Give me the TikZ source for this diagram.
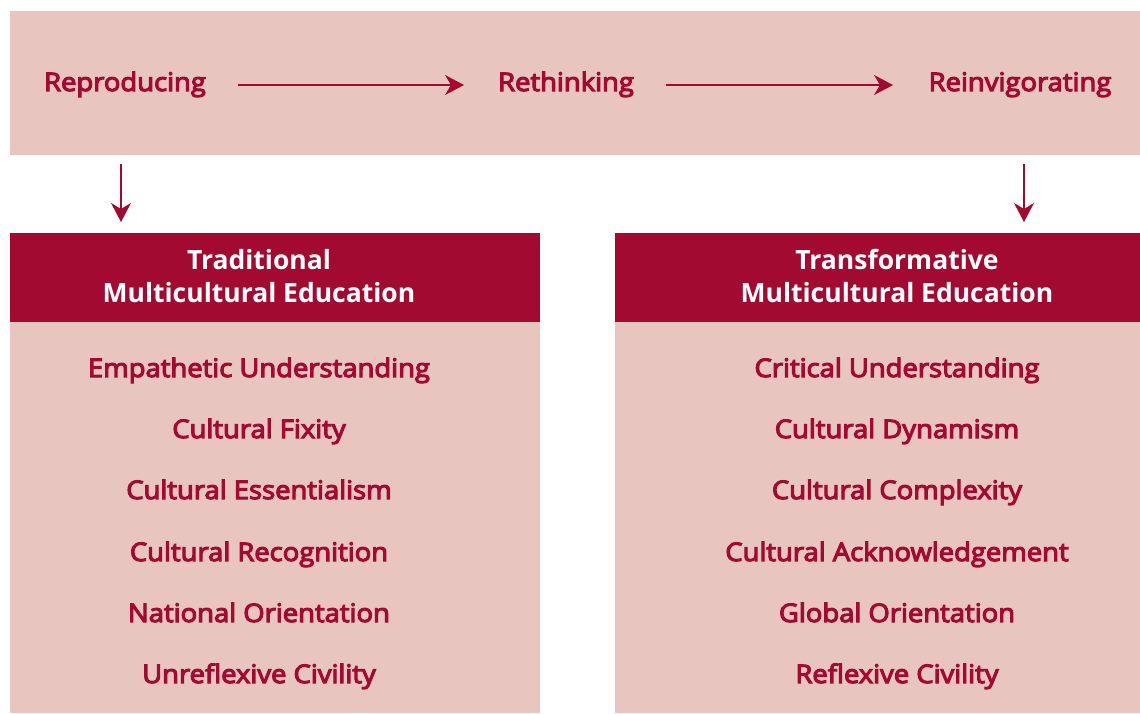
\documentclass[tikz,border=0pt]{standalone}
\usepackage{fontspec}
\setmainfont{Open Sans}
\newfontfamily\semib{Open Sans}[FakeBold=4.5,FakeStretch=1.075]
\usetikzlibrary{arrows.meta}
\definecolor{crimson}{HTML}{A20A32}
\definecolor{blush}{HTML}{E8C5BF}
\tikzset{
  panel/.style={fill=blush, draw=none},
  headbar/.style={fill=crimson, draw=none},
  stage/.style={anchor=base, text=crimson, font=\semib\fontsize{25.5}{30}\selectfont, inner sep=0pt},
  item/.style={anchor=base, text=crimson, font=\semib\fontsize{25.5}{30}\selectfont, inner sep=0pt},
  headtext/.style={anchor=base, text=white, font=\bfseries\fontsize{26.5}{30}\selectfont, inner sep=0pt},
  flow/.style={draw=crimson, line width=1.3pt, -{Stealth[length=19pt,width=20pt,inset=6pt]}}
}
\begin{document}
\begin{tikzpicture}[x=1pt,y=-1pt]
\useasboundingbox (0,0) rectangle (1140,713);
% top band with the three stages
\fill[panel] (10,11) rectangle (1140,155);
\node[stage] (repro) at (125,91) {Reproducing};
\node[stage] (rethink) at (566,91) {Rethinking};
\node[stage] (reinv) at (1020,91) {Reinvigorating};
\coordinate (a1s) at (238,85);
\coordinate (a1e) at (464,85);
\coordinate (a2s) at (666,85);
\coordinate (a2e) at (893,85);
\draw[flow] (a1s) -- (a1e);
\draw[flow] (a2s) -- (a2e);
% downward arrows to the two columns
\coordinate (l1) at (121,164);
\coordinate (l2) at (121,222);
\coordinate (r1) at (1024,164);
\coordinate (r2) at (1024,222);
\draw[flow] (l1) -- (l2);
\draw[flow] (r1) -- (r2);
% left column
\fill[panel] (10,322) rectangle (540,713);
\fill[headbar] (10,233) rectangle (540,322);
\node[headtext] (lh1) at (259,269) {Traditional};
\node[headtext] (lh2) at (259,302) {Multicultural Education};
\node[item] (l-a) at (259,377) {Empathetic Understanding};
\node[item] (l-b) at (259,438) {Cultural Fixity};
\node[item] (l-c) at (259,499) {Cultural Essentialism};
\node[item] (l-d) at (259,561) {Cultural Recognition};
\node[item] (l-e) at (259,622) {National Orientation};
\node[item] (l-f) at (259,683) {Unreflexive Civility};
% right column
\fill[panel] (615,322) rectangle (1140,713);
\fill[headbar] (615,233) rectangle (1140,322);
\node[headtext] (rh1) at (897,269) {Transformative};
\node[headtext] (rh2) at (897,302) {Multicultural Education};
\node[item] (r-a) at (897,377) {Critical Understanding};
\node[item] (r-b) at (897,438) {Cultural Dynamism};
\node[item] (r-c) at (897,499) {Cultural Complexity};
\node[item] (r-d) at (897,561) {Cultural Acknowledgement};
\node[item] (r-e) at (897,622) {Global Orientation};
\node[item] (r-f) at (897,683) {Reflexive Civility};
\end{tikzpicture}
\end{document}
